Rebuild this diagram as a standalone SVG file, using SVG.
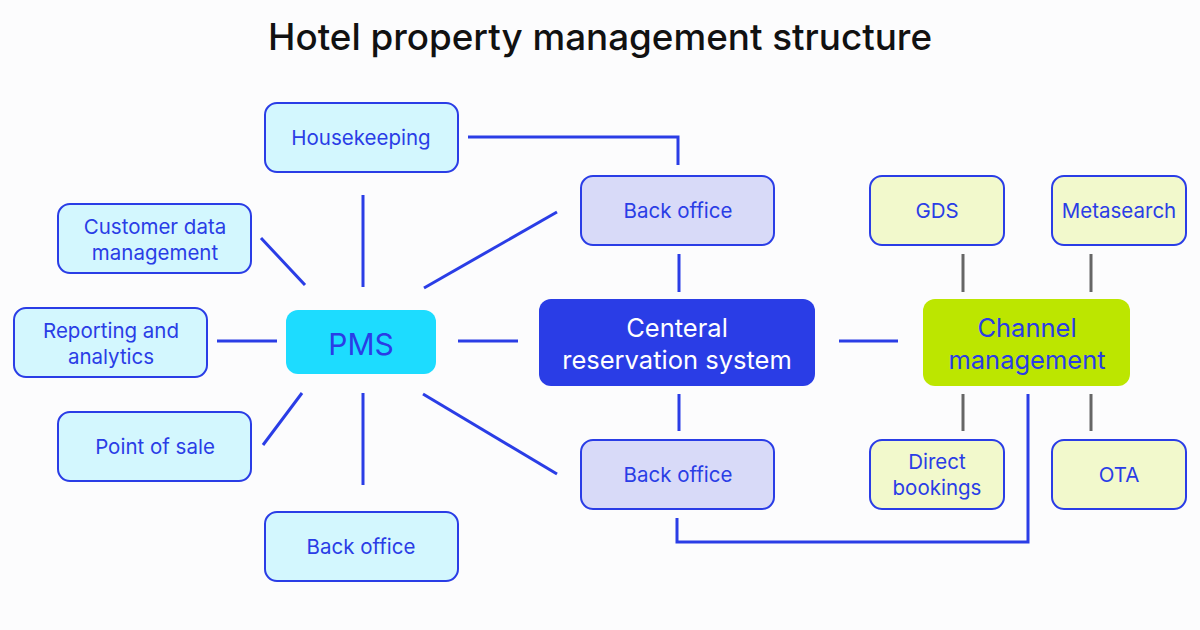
<svg xmlns="http://www.w3.org/2000/svg" width="1200" height="630" viewBox="0 0 1200 630">
<style>
text{font-family:"Inter","Liberation Sans",sans-serif;text-anchor:middle;fill:#2a3de6}
.s{font-size:20.5px}
.pms rect{fill:#d3f7fe;stroke:#2a3de6;stroke-width:2}
.bo rect{fill:#d8daf8;stroke:#2a3de6;stroke-width:2}
.ch rect{fill:#f2f9cc;stroke:#2a3de6;stroke-width:2}
#edges line,#edges path{stroke:#2a3de6;stroke-width:3;fill:none}
#edges .g{stroke:#666}
</style>
<rect width="1200" height="630" fill="#fcfcfd"/>
<text x="600" y="50" style="font-size:36.8px;fill:#111;font-weight:500">Hotel property management structure</text>
<g id="edges">
<path d="M468 137H678V165"/>
<line x1="363" y1="195" x2="363" y2="287"/>
<line x1="424" y1="288" x2="557" y2="212"/>
<line x1="217" y1="341" x2="277" y2="341"/>
<line x1="458" y1="341" x2="518" y2="341"/>
<line x1="261" y1="238" x2="305" y2="285"/>
<line x1="263" y1="445" x2="302" y2="393"/>
<line x1="363" y1="393" x2="363" y2="485"/>
<line x1="423" y1="394" x2="557" y2="474"/>
<line x1="679" y1="254" x2="679" y2="292"/>
<line x1="679" y1="394" x2="679" y2="431"/>
<line x1="839" y1="341" x2="898" y2="341"/>
<line class="g" x1="963" y1="254" x2="963" y2="292"/>
<line class="g" x1="1091" y1="254" x2="1091" y2="292"/>
<line class="g" x1="963" y1="394" x2="963" y2="431"/>
<line class="g" x1="1091" y1="394" x2="1091" y2="431"/>
<path d="M677 518V542H1028V394"/>
</g>
<g id="housekeeping" class="pms"><rect x="265" y="103" width="193" height="69" rx="12"/><text class="s" x="361" y="145">Housekeeping</text></g>
<g id="customer" class="pms"><rect x="58" y="204" width="193" height="69" rx="12"/><text class="s" x="155" y="234">Customer data</text><text class="s" x="155" y="260">management</text></g>
<g id="reporting" class="pms"><rect x="14" y="308" width="193" height="69" rx="12"/><text class="s" x="111" y="338">Reporting and</text><text class="s" x="111" y="364">analytics</text></g>
<g id="pos" class="pms"><rect x="58" y="412" width="193" height="69" rx="12"/><text class="s" x="155" y="454">Point of sale</text></g>
<g id="backoffice3" class="pms"><rect x="265" y="512" width="193" height="69" rx="12"/><text class="s" x="361" y="554">Back office</text></g>
<g id="pmsnode"><rect x="286" y="310" width="150" height="64" rx="12" fill="#1ddcff"/><text x="361" y="355" style="font-size:30px">PMS</text></g>
<g id="backoffice1" class="bo"><rect x="581" y="176" width="193" height="69" rx="12"/><text class="s" x="678" y="218">Back office</text></g>
<g id="backoffice2" class="bo"><rect x="581" y="440" width="193" height="69" rx="12"/><text class="s" x="678" y="482">Back office</text></g>
<g id="crs"><rect x="539" y="299" width="276" height="87" rx="12" fill="#2a3de6"/><text x="677" y="337" style="font-size:25.5px;fill:#fff">Centeral</text><text x="677" y="369" style="font-size:25.5px;fill:#fff">reservation system</text></g>
<g id="channel"><rect x="923" y="299" width="207" height="87" rx="12" fill="#bce600"/><text x="1027" y="337" style="font-size:25.5px">Channel</text><text x="1027" y="369" style="font-size:25.5px">management</text></g>
<g id="gds" class="ch"><rect x="870" y="176" width="134" height="69" rx="12"/><text class="s" x="937" y="218">GDS</text></g>
<g id="meta" class="ch"><rect x="1052" y="176" width="134" height="69" rx="12"/><text class="s" x="1119" y="218">Metasearch</text></g>
<g id="direct" class="ch"><rect x="870" y="440" width="134" height="69" rx="12"/><text class="s" x="937" y="469">Direct</text><text class="s" x="937" y="495">bookings</text></g>
<g id="ota" class="ch"><rect x="1052" y="440" width="134" height="69" rx="12"/><text class="s" x="1119" y="482">OTA</text></g>
</svg>
